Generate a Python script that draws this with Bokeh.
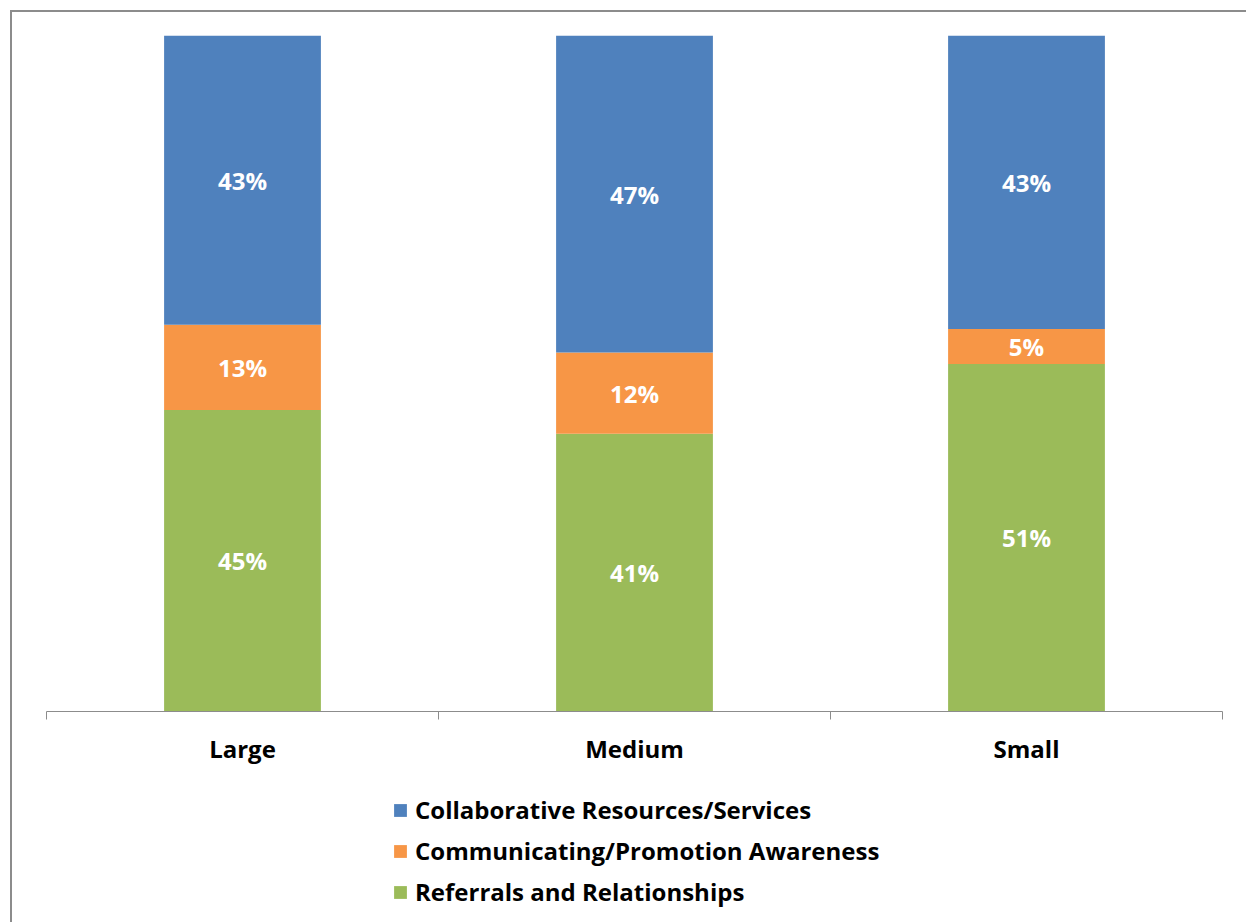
from bokeh.plotting import figure
from bokeh.layouts import column
from bokeh.models import (FactorRange, Range1d, LinearAxis, FixedTicker, Legend,
                          LegendItem, ColumnDataSource, CategoricalAxis)
from bokeh.core.properties import value
from bokeh.embed import file_html
from bokeh.resources import INLINE

# ---- data ----
categories = ["Large", "Medium", "Small"]
referrals = [44.6, 41.1, 51.4]
communicating = [12.6, 12.0, 5.2]
collaborative = [42.8, 46.9, 43.4]
referrals_labels = ["45%", "41%", "51%"]
communicating_labels = ["13%", "12%", "5%"]
collaborative_labels = ["43%", "47%", "43%"]
series_names = ["Collaborative Resources/Services",
                "Communicating/Promotion Awareness",
                "Referrals and Relationships"]

BLUE, ORANGE, GREEN = "#4F81BD", "#F79646", "#9BBB59"
FONT = "Open Sans"

src = ColumnDataSource(dict(cat=categories, ref=referrals, com=communicating, col=collaborative))

p = figure(x_range=FactorRange(*categories), y_range=Range1d(0, 100),
           width=1234, height=770, output_backend="svg", toolbar_location=None,
           x_axis_location=None, y_axis_location=None,
           min_border_left=34, min_border_right=24, min_border_top=23, min_border_bottom=71)
p.outline_line_color = None
p.xgrid.visible = False
p.ygrid.visible = False

rs = p.vbar_stack(["ref", "com", "col"], x="cat", width=0.4, source=src,
                  color=[GREEN, ORANGE, BLUE], line_color=None)

# data labels at segment centres
mids_x, mids_y, texts = [], [], []
for i, c in enumerate(categories):
    b0 = 0.0
    for vals, labs in ((referrals, referrals_labels), (communicating, communicating_labels),
                       (collaborative, collaborative_labels)):
        mids_x.append(c)
        mids_y.append(b0 + vals[i] / 2.0)
        texts.append(labs[i])
        b0 += vals[i]
lab_src = ColumnDataSource(dict(x=mids_x, y=mids_y, t=texts))
p.text(x="x", y="y", text="t", source=lab_src, text_align="center", text_baseline="middle",
       text_color="white", text_font=value(FONT), text_font_style="bold", text_font_size="24px")

# axis line with tick marks at the category boundaries
ax_b = LinearAxis(ticker=FixedTicker(ticks=list(range(len(categories) + 1))),
                  axis_line_color="#8c8c8c", axis_line_width=1,
                  major_tick_line_color="#8c8c8c", major_tick_out=8, major_tick_in=0,
                  minor_tick_line_color=None, minor_tick_out=0,
                  major_label_text_font_size="1px", major_label_text_color=None,
                  major_label_standoff=0)
p.add_layout(ax_b, "below")

ax_c = CategoricalAxis(axis_line_color=None, major_tick_line_color=None, minor_tick_line_color=None,
                       major_tick_out=0, major_tick_in=0,
                       major_label_text_font=FONT, major_label_text_font_style="bold",
                       major_label_text_font_size="24px", major_label_text_color="black",
                       major_label_standoff=12)
p.add_layout(ax_c, "below")

# legend panel below the chart (zero-height swatch renderers carry the legend colours)
p2 = figure(width=1234, height=140, output_backend="svg", toolbar_location=None,
            x_range=FactorRange(*categories), y_range=Range1d(0, 1),
            x_axis_location=None, y_axis_location=None, min_border=0)
p2.outline_line_color = None
p2.xgrid.visible = False
p2.ygrid.visible = False
swatches = [p2.vbar(x="cat", top=0, bottom=0, width=0.4, source=src, color=c, line_color=None)
            for c in (BLUE, ORANGE, GREEN)]
legend = Legend(items=[LegendItem(label=n, renderers=[r]) for n, r in zip(series_names, swatches)],
                orientation="vertical", location=(346, 14),
                label_text_font=FONT, label_text_font_style="bold", label_text_font_size="24px",
                label_text_color="black", glyph_width=16, glyph_height=16, label_standoff=7,
                spacing=8, padding=0, margin=0, border_line_color=None,
                background_fill_alpha=0)
p2.add_layout(legend, "center")

layout = column(p, p2, spacing=0,
                styles={"border-left": "2px solid #8c8c8c", "border-top": "2px solid #8c8c8c",
                        "margin-left": "10px", "margin-top": "10px"})

open("out.html", "w").write(file_html(layout, INLINE))
